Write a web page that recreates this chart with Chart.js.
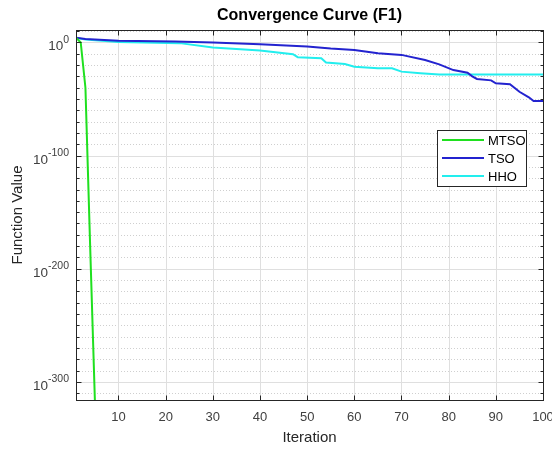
<!DOCTYPE html>
<html>
<head>
<meta charset="utf-8">
<script src="https://cdn.jsdelivr.net/npm/chart.js@4.4.0/dist/chart.umd.min.js"></script>
<style>
  html, body { margin: 0; padding: 0; background: #fff; }
</style>
</head>
<body>
<canvas id="chart" width="552" height="449"></canvas>
<script>
// ── Daten (y = log10 des Funktionswerts) ─────────────────────────────────────
const seriesNames = ['MTSO', 'TSO', 'HHO'];
const seriesColors = ['#1fe01f', '#2323cf', '#22eeee'];

const iterMTSO = [1, 2, 3, 4, 5];
const logMTSO  = [4.2, 0, -40, -180, -316];

const iterTSO = [1, 3, 10, 22, 30, 40, 50, 55, 60, 65, 70, 75, 78, 81, 84, 85, 86, 89, 90, 93, 95, 97, 98, 100];
const logTSO  = [4.2, 3, 1.5, 0.8, -0.1, -1.5, -3.6, -5.4, -6.6, -9.5, -11, -15.5, -19.4, -24.4, -26.8, -30, -32.3, -33.5, -36.1, -37, -43.6, -48.5, -51.8, -51.8];

const iterHHO = [1, 3, 10, 23, 30, 40, 47, 48, 53, 54, 58, 60, 65, 68, 70, 74, 78, 100];
const logHHO  = [4.2, 2.5, 0.5, -0.6, -4.5, -7.2, -10.4, -13, -14, -17.8, -19, -21.4, -22.8, -22.8, -25.8, -27.2, -28.4, -28.4];

const xTicks    = [10, 20, 30, 40, 50, 60, 70, 80, 90, 100];
const yMajorExp = [0, -100, -200, -300];
const yMinorExp = [10, -10, -20, -30, -40, -50, -60, -70, -80, -90,
                   -110, -120, -130, -140, -150, -160, -170, -180, -190,
                   -210, -220, -230, -240, -250, -260, -270, -280, -290,
                   -310];

const FONT  = '"Liberation Sans", Arial, sans-serif';
const AXCOL = '#262626';

// ── Hilfsfunktionen ──────────────────────────────────────────────────────────
function toPoints(xs, ys) {
  return xs.map((x, i) => ({ x, y: ys[i] }));
}

function hLine(ctx, x1, x2, y) {
  ctx.beginPath(); ctx.moveTo(x1, y); ctx.lineTo(x2, y); ctx.stroke();
}
function vLine(ctx, x, y1, y2) {
  ctx.beginPath(); ctx.moveTo(x, y1); ctx.lineTo(x, y2); ctx.stroke();
}

// MATLAB-artige Achsen: Gitter, Box, Ticks, Beschriftung, Legende
const matlabAxes = {
  id: 'matlabAxes',
  beforeDatasetsDraw(chart) {
    const { ctx, chartArea: a, scales: { x, y } } = chart;
    ctx.save();
    ctx.lineWidth = 1;

    ctx.strokeStyle = '#cfcfcf';
    ctx.setLineDash([1, 2]);
    yMinorExp.forEach(v => hLine(ctx, a.left, a.right, Math.round(y.getPixelForValue(v)) + 0.5));
    ctx.setLineDash([]);

    ctx.strokeStyle = '#dfdfdf';
    yMajorExp.forEach(v => hLine(ctx, a.left, a.right, Math.round(y.getPixelForValue(v)) + 0.5));
    xTicks.forEach(v => vLine(ctx, Math.round(x.getPixelForValue(v)) + 0.5, a.top, a.bottom));
    ctx.restore();
  },
  afterDraw(chart) {
    const { ctx, chartArea: a, scales: { x, y } } = chart;
    ctx.save();

    // Box
    ctx.strokeStyle = AXCOL;
    ctx.lineWidth = 1;
    ctx.strokeRect(Math.round(a.left) + 0.5, Math.round(a.top) + 0.5,
                   Math.round(a.right - a.left), Math.round(a.bottom - a.top));

    // Tick-Marken (nach innen)
    const L = Math.round(a.left) + 0.5, R = Math.round(a.right) + 0.5;
    const T = Math.round(a.top) + 0.5,  B = Math.round(a.bottom) + 0.5;
    xTicks.forEach(v => {
      const px = Math.round(x.getPixelForValue(v)) + 0.5;
      vLine(ctx, px, B, B - 5);
      vLine(ctx, px, T, T + 5);
    });
    yMajorExp.forEach(v => {
      const py = Math.round(y.getPixelForValue(v)) + 0.5;
      hLine(ctx, L, L + 5, py);
      hLine(ctx, R, R - 5, py);
    });
    yMinorExp.forEach(v => {
      const py = Math.round(y.getPixelForValue(v)) + 0.5;
      hLine(ctx, L, L + 3, py);
      hLine(ctx, R, R - 3, py);
    });

    // x-Tick-Beschriftung
    ctx.fillStyle = '#404040';
    ctx.font = `13px ${FONT}`;
    ctx.textAlign = 'center';
    ctx.textBaseline = 'middle';
    xTicks.forEach(v => ctx.fillText(String(v), x.getPixelForValue(v), a.bottom + 17));

    // y-Tick-Beschriftung: 10^n mit hochgestelltem Exponenten
    yMajorExp.forEach(v => {
      const py = y.getPixelForValue(v);
      const exp = String(v);
      ctx.font = `10.5px ${FONT}`;
      const ew = ctx.measureText(exp).width;
      const ex = a.left - 7 - ew;
      ctx.textAlign = 'left';
      ctx.textBaseline = 'alphabetic';
      ctx.fillText(exp, ex, py + 0.5);
      ctx.font = `13.5px ${FONT}`;
      ctx.textAlign = 'right';
      ctx.fillText('10', ex, py + 8);
    });

    // Titel und Achsentitel
    ctx.fillStyle = '#000';
    ctx.font = `bold 16px ${FONT}`;
    ctx.textAlign = 'center';
    ctx.textBaseline = 'middle';
    ctx.fillText('Convergence Curve (F1)', (a.left + a.right) / 2, 16);

    ctx.fillStyle = AXCOL;
    ctx.font = `15px ${FONT}`;
    ctx.fillText('Iteration', (a.left + a.right) / 2, 438);

    ctx.save();
    ctx.translate(18, (a.top + a.bottom) / 2);
    ctx.rotate(-Math.PI / 2);
    ctx.fillText('Function Value', 0, 0);
    ctx.restore();

    // Legende
    const lx = 437.5, ly = 130.5, lw = 89, lh = 56;
    ctx.fillStyle = '#fff';
    ctx.fillRect(lx, ly, lw, lh);
    ctx.strokeStyle = AXCOL;
    ctx.strokeRect(lx, ly, lw, lh);
    const rows = [140, 158, 176];
    ctx.font = `13px ${FONT}`;
    ctx.textAlign = 'left';
    ctx.textBaseline = 'middle';
    seriesNames.forEach((name, i) => {
      ctx.strokeStyle = seriesColors[i];
      ctx.lineWidth = 2;
      hLine(ctx, 442, 484, rows[i]);
      ctx.fillStyle = '#000';
      ctx.fillText(name, 488, rows[i] + 1);
    });

    ctx.restore();
  },
};

// ── Chart ────────────────────────────────────────────────────────────────────
const seriesData = [
  toPoints(iterMTSO, logMTSO),
  toPoints(iterTSO, logTSO),
  toPoints(iterHHO, logHHO),
];

new Chart(document.getElementById('chart').getContext('2d'), {
  type: 'line',
  data: {
    datasets: seriesNames.map((name, i) => ({
      label: name,
      data: seriesData[i],
      borderColor: seriesColors[i],
      borderWidth: 2,
      pointRadius: 0,
      tension: 0,
      fill: false,
    })),
  },
  options: {
    responsive: false,
    animation: false,
    layout: { padding: { left: 76, top: 30, right: 9, bottom: 49 } },
    plugins: { legend: { display: false }, tooltip: { enabled: false } },
    scales: {
      x: { type: 'linear', min: 1, max: 100, display: false },
      y: { type: 'linear', min: -316, max: 11, display: false },
    },
  },
  plugins: [matlabAxes],
});
</script>
</body>
</html>
